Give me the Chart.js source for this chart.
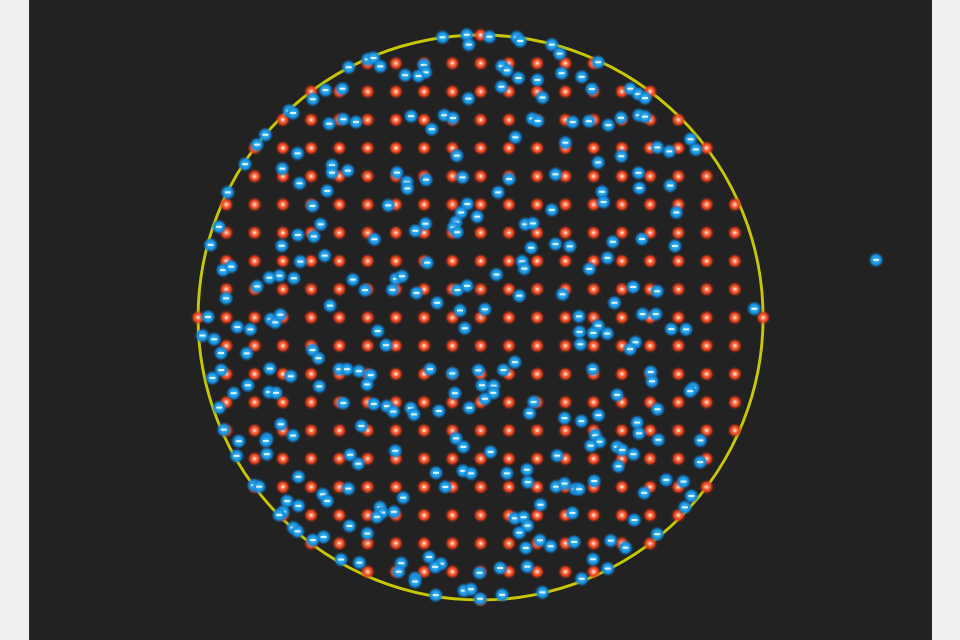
<!DOCTYPE html>
<html>
<head>
<meta charset="utf-8">
<script src="https://cdn.jsdelivr.net/npm/chart.js@4/dist/chart.umd.min.js"></script>
<style>
  html, body { margin: 0; padding: 0; background: #f0f0f0; width: 960px; height: 640px; overflow: hidden; }
  #wrap { position: absolute; left: 30px; top: 0; width: 902px; height: 640px; background: #222222; box-shadow: -1px 0 0 #2c2c2c; }
</style>
</head>
<body>
<div id="wrap"><canvas id="c"></canvas></div>
<script>
// ---- data (units: circle radius = 10 grid steps) ----
const circleCenter = [0, 0];
const circleRadius = 10;
// half-width (in grid steps) of each lattice row, for |row| = 0..10
const rowHalfWidths = [10, 9, 9, 9, 9, 8, 8, 7, 6, 4, 0];

const sampleX = [
  -1.35,-0.49,-0.42,0.31,-3.99,-3.79,-3.55,-4.67,-2.01,-1.95,-2.20,-2.67,-5.49,-4.89,-5.94,-0.43,
  -6.78,-6.64,-5.36,-4.86,-4.41,-2.46,-1.29,-0.98,-1.73,-7.62,-7.91,-6.48,-0.84,-8.34,-7.02,-5.26,
  -5.26,-4.70,-2.96,-1.93,-0.64,-2.61,1.28,1.40,2.52,2.80,4.16,0.75,0.93,1.34,2.01,2.87,
  3.58,0.74,2.19,3.94,5.30,5.58,5.82,1.83,2.02,3.26,3.83,4.52,4.97,5.60,5.82,1.23,
  3.00,4.16,4.98,6.26,6.68,7.43,7.62,2.65,5.59,1.01,-2.59,-6.41,-5.43,-8.95,-5.95,-3.27,
  -0.47,-0.69,-0.12,-5.66,-1.95,-0.87,-0.96,-0.83,-2.31,-9.26,-6.47,-5.90,-3.76,-9.56,-7.04,-5.52,
  -6.38,-1.89,-9.12,-8.83,-7.12,-7.48,-6.61,-4.52,-3.00,-2.78,-7.91,-4.09,-3.12,-2.27,-0.82,-0.48,
  -9.01,-1.54,-5.33,-0.73,0.15,-9.65,-7.43,-7.27,-7.09,-8.61,-8.15,-0.56,-9.85,-9.43,-3.64,-3.35,
  -9.19,-8.28,-5.95,-5.74,-9.18,-9.49,-7.46,-6.72,-5.00,-4.73,-4.31,-3.89,-1.79,-1.00,-0.08,-8.24,
  -5.71,-4.02,0.05,-8.74,-7.49,-7.24,-0.91,0.62,4.30,4.35,5.62,6.71,2.52,6.93,1.58,1.85,
  4.68,5.71,6.88,2.65,3.16,1.79,1.47,1.55,4.49,3.85,0.56,5.40,6.25,1.37,2.90,4.74,
  9.69,3.48,5.73,6.20,4.16,3.50,3.99,4.48,6.75,7.27,3.53,5.48,5.29,1.21,0.81,3.97,
  6.02,6.07,0.46,0.45,4.83,7.52,7.42,-9.25,-4.86,-3.78,-3.32,-3.09,-2.47,-2.36,-1.48,-0.40,
  0.15,-9.09,-7.07,-6.64,-8.56,-7.57,-7.60,-4.22,-0.87,-0.61,-8.64,-7.57,-3.02,-4.62,-4.33,0.35,
  -1.58,-0.62,-0.34,-6.45,-8.02,-7.84,-4.68,-1.25,-5.59,-5.43,-2.74,-6.85,-6.45,-3.56,-3.49,-3.67,
  -3.07,-6.99,-7.13,-4.64,-6.63,-6.48,-4.01,-5.56,-5.94,-1.82,-1.40,-1.61,-4.94,-4.29,-2.81,-2.90,
  -2.32,-2.32,-0.04,-1.59,-0.59,-0.34,-0.02,1.88,1.73,6.26,2.97,3.57,4.17,5.54,5.61,4.06,
  4.21,3.90,6.29,7.78,4.83,5.01,5.41,2.71,4.88,7.77,1.64,0.93,1.67,2.67,2.97,3.35,
  3.49,4.02,6.57,7.18,5.79,7.46,2.12,7.23,3.25,1.21,1.52,1.66,1.37,5.44,6.25,2.10,
  2.48,1.60,3.31,4.61,5.13,3.98,4.50,0.69,1.65,3.58,2.19,0.76,14.00
];
const sampleY = [
  9.92,10.01,9.66,9.94,9.14,9.19,8.89,8.86,8.94,8.68,8.55,8.58,8.05,8.10,7.73,7.75,
  7.32,7.24,6.86,7.02,6.92,7.13,7.16,7.06,6.67,6.47,6.12,5.81,5.73,5.43,5.27,5.39,
  5.13,5.20,5.13,4.88,4.96,4.80,9.92,9.79,9.66,9.34,9.04,8.90,8.75,8.48,8.41,8.65,
  8.52,8.17,7.79,8.09,8.10,7.91,7.77,7.04,6.96,6.92,6.95,6.81,7.07,7.16,7.11,6.38,
  6.19,5.49,5.71,6.02,5.88,6.31,5.95,5.07,5.12,4.90,4.57,4.75,4.48,4.43,3.95,3.97,
  4.02,3.72,3.57,3.30,3.32,3.38,3.19,3.02,3.07,3.21,2.92,2.87,2.77,2.57,2.54,2.19,
  1.98,1.94,1.68,1.80,1.48,1.41,1.39,1.34,1.37,1.46,1.10,0.97,0.98,0.87,0.97,1.12,
  0.68,0.52,0.42,0.25,0.29,0.02,-0.06,-0.17,0.10,-0.34,-0.42,-0.38,-0.64,-0.77,-0.48,-0.98,
  -1.26,-1.27,-1.15,-1.44,-1.86,-2.14,-1.81,-2.08,-1.83,-1.83,-1.90,-2.04,-1.83,-1.98,-1.87,-2.40,
  -2.44,-2.37,-2.40,-2.68,-2.64,-2.67,-2.68,4.43,4.45,4.09,4.58,4.67,3.81,3.72,3.30,3.33,
  2.68,2.78,2.53,2.60,2.52,2.47,1.99,1.73,2.11,1.72,1.52,1.08,0.93,0.77,0.82,0.52,
  0.31,0.04,0.12,0.12,-0.29,-0.51,-0.55,-0.57,-0.41,-0.42,-0.95,-0.88,-1.12,-1.58,-1.86,-1.83,
  -1.93,-2.26,-2.42,-2.67,-2.74,-2.50,-2.61,-3.19,-3.03,-3.06,-3.14,-3.33,-3.21,-3.43,-3.31,-3.20,
  -2.88,-3.97,-3.78,-4.18,-4.38,-4.29,-4.37,-3.84,-4.28,-4.58,-4.90,-4.84,-4.72,-4.86,-5.18,-4.76,
  -5.50,-5.43,-5.52,-5.64,-5.94,-5.99,-6.06,-6.00,-6.26,-6.50,-6.38,-6.50,-6.67,-6.72,-6.91,-7.06,
  -6.88,-6.88,-6.99,-7.38,-7.44,-7.57,-7.65,-7.77,-7.88,-8.48,-8.72,-8.83,-8.57,-8.68,-8.70,-9.00,
  -9.23,-9.35,-9.04,-9.83,-9.67,-9.62,-9.96,-2.99,-3.39,-3.25,-3.56,-3.67,-3.46,-3.72,-4.10,-4.17,
  -4.40,-4.54,-4.33,-4.35,-4.58,-4.69,-4.84,-4.89,-5.27,-5.12,-5.39,-5.52,-5.83,-5.99,-5.88,-6.07,
  -6.08,-5.79,-5.75,-5.81,-6.21,-6.32,-6.63,-6.72,-6.92,-7.11,-7.07,-7.37,-7.62,-7.17,-7.67,-7.89,
  -8.10,-8.16,-7.95,-7.90,-8.15,-8.56,-8.89,-8.87,-8.82,-9.25,-9.73,-9.82,2.04
];

// ---- build datasets from the arrays ----
const latticePoints = [];
for (let row = -circleRadius; row <= circleRadius; row++) {
  const hw = rowHalfWidths[Math.abs(row)];
  for (let col = -hw; col <= hw; col++) latticePoints.push({ x: col, y: row });
}
const samplePoints = sampleX.map((x, i) => ({ x: x, y: sampleY[i] }));

// ---- point sprites ----
function makeRed() {
  const s = 16, c = document.createElement('canvas'); c.width = s; c.height = s;
  const g = c.getContext('2d');
  const gr = g.createRadialGradient(s/2, s/2, 0, s/2, s/2, s/2);
  gr.addColorStop(0, '#fff4ee');
  gr.addColorStop(0.17, '#ffb8a0');
  gr.addColorStop(0.36, '#ff5a30');
  gr.addColorStop(0.54, '#ec4520');
  gr.addColorStop(0.66, 'rgba(225,60,25,0.6)');
  gr.addColorStop(0.84, 'rgba(200,50,20,0.15)');
  gr.addColorStop(1, 'rgba(200,50,20,0)');
  g.fillStyle = gr; g.fillRect(0, 0, s, s);
  return c;
}
function makeBlue() {
  const s = 16, c = document.createElement('canvas'); c.width = s; c.height = s;
  const g = c.getContext('2d');
  const gr = g.createRadialGradient(s/2, s/2, 0, s/2, s/2, s/2);
  gr.addColorStop(0, '#5cc6ff');
  gr.addColorStop(0.45, '#1f9ce6');
  gr.addColorStop(0.62, '#168bd6');
  gr.addColorStop(0.75, 'rgba(22,130,210,0.55)');
  gr.addColorStop(0.9, 'rgba(22,120,200,0.15)');
  gr.addColorStop(1, 'rgba(22,120,200,0)');
  g.fillStyle = gr; g.fillRect(0, 0, s, s);
  g.fillStyle = 'rgba(235,248,255,0.92)';
  g.fillRect(5, 7, 6, 2);
  return c;
}
const redSprite = makeRed();
const blueSprite = makeBlue();

// circle outline drawn under the points, positioned through the chart's scales
const circlePlugin = {
  id: 'circleOutline',
  beforeDatasetsDraw(chart) {
    const sx = chart.scales.x, sy = chart.scales.y;
    const cx = sx.getPixelForValue(circleCenter[0]);
    const cy = sy.getPixelForValue(circleCenter[1]);
    const r = Math.abs(sx.getPixelForValue(circleCenter[0] + circleRadius) - cx);
    const ctx = chart.ctx;
    ctx.save();
    ctx.beginPath();
    ctx.arc(cx, cy, r, 0, Math.PI * 2);
    ctx.strokeStyle = '#c8c800';
    ctx.lineWidth = 2.9;
    ctx.stroke();
    ctx.restore();
  }
};

new Chart(document.getElementById('c'), {
  type: 'scatter',
  data: {
    datasets: [
      {
        label: 'samples',
        data: samplePoints,
        pointStyle: blueSprite,
        pointRadius: 5,
        pointHoverRadius: 5,
        clip: false
      },
      {
        label: 'grid',
        data: latticePoints,
        pointStyle: redSprite,
        pointRadius: 4,
        pointHoverRadius: 4,
        clip: false
      }
    ]
  },
  options: {
    responsive: true,
    maintainAspectRatio: false,
    animation: false,
    events: [],
    layout: { padding: 0, autoPadding: false },
    plugins: { legend: { display: false }, tooltip: { enabled: false } },
    scales: {
      x: { type: 'linear', display: false, min: -15.95, max: 15.98 },
      y: { type: 'linear', display: false, min: -11.42, max: 11.24 }
    }
  },
  plugins: [circlePlugin]
});
</script>
</body>
</html>
